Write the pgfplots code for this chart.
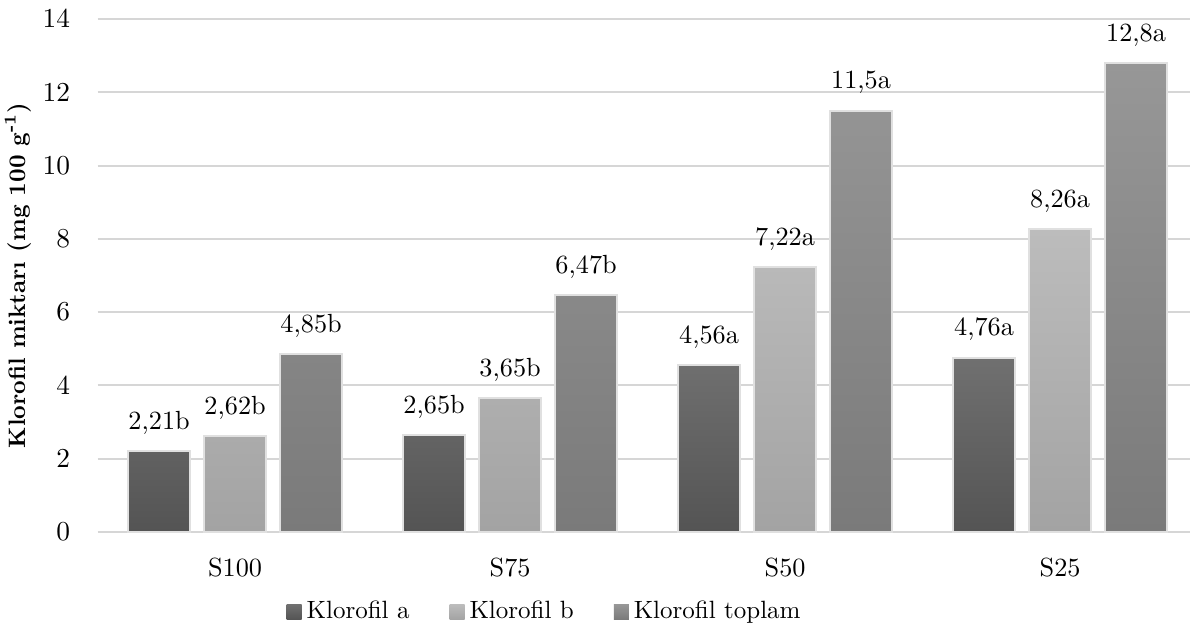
\documentclass[border=0pt]{standalone}
\usepackage{fontspec}
\usepackage{pgfplots}
\usepackage{pgfplotstable}
\pgfplotsset{compat=1.18}

\pgfplotstableread{
x a    la    b    lb    t     lt
0 2.21 2,21b 2.62 2,62b 4.85  4,85b
1 2.65 2,65b 3.65 3,65b 6.47  6,47b
2 4.56 4,56a 7.22 7,22a 11.5  11,5a
3 4.76 4,76a 8.26 8,26a 12.8  12,8a
}\datatable

\begin{document}
\begin{tikzpicture}
\begin{axis}[
  scale only axis,
  width=436.8pt, height=205.2pt,
  xmin=-0.5, xmax=3.471,
  ymin=0, ymax=14,
  ytick={0,2,...,14},
  xtick={0,1,2,3},
  xticklabels={S100,S75,S50,S25},
  ybar=5.6pt, bar width=24.8pt,
  axis line style={draw=none},
  major tick length=0pt,
  ymajorgrids,
  grid style={draw=black!16, line width=0.8pt},
  tick label style={font=\fontsize{10.5}{12}\selectfont},
  yticklabel style={xshift=-7.5pt},
  xticklabel style={yshift=-7pt},
  ylabel={\textbf{Klorofil miktarı (mg 100 g\textsuperscript{-1})}},
  every axis y label/.style={at={(axis description cs:-0.0729,0.5)}, anchor=center, rotate=90, font=\fontsize{9.5}{11}\selectfont},
  nodes near coords,
  point meta=explicit symbolic,
  every node near coord/.append style={font=\fontsize{10.5}{12}\selectfont, yshift=3pt, black},
  legend style={draw=none, at={(axis description cs:0.4107,-0.156)}, anchor=center,
    legend columns=-1, font=\fontsize{10}{12}\selectfont, inner sep=0pt,
    /tikz/every even column/.append style={column sep=14pt}},
  legend image code/.code={\path[#1, draw=none] (0pt,-3pt) rectangle (6pt,3pt);},
]
\addplot[draw=black!12, line width=0.8pt, top color={rgb,255:red,112;green,112;blue,112}, bottom color={rgb,255:red,84;green,84;blue,84}]
  table[x=x, y=a, meta=la] {\datatable};
\addplot[draw=black!12, line width=0.8pt, top color={rgb,255:red,188;green,188;blue,188}, bottom color={rgb,255:red,163;green,163;blue,163}]
  table[x=x, y=b, meta=lb] {\datatable};
\addplot[draw=black!12, line width=0.8pt, top color={rgb,255:red,151;green,151;blue,151}, bottom color={rgb,255:red,122;green,122;blue,122}]
  table[x=x, y=t, meta=lt] {\datatable};
\legend{Klorofil a, Klorofil b, Klorofil toplam}
\end{axis}
\pgfresetboundingbox
\path[use as bounding box] (-39.04pt,-39.2pt) rectangle (436.96pt,212.8pt);
\end{tikzpicture}
\end{document}
